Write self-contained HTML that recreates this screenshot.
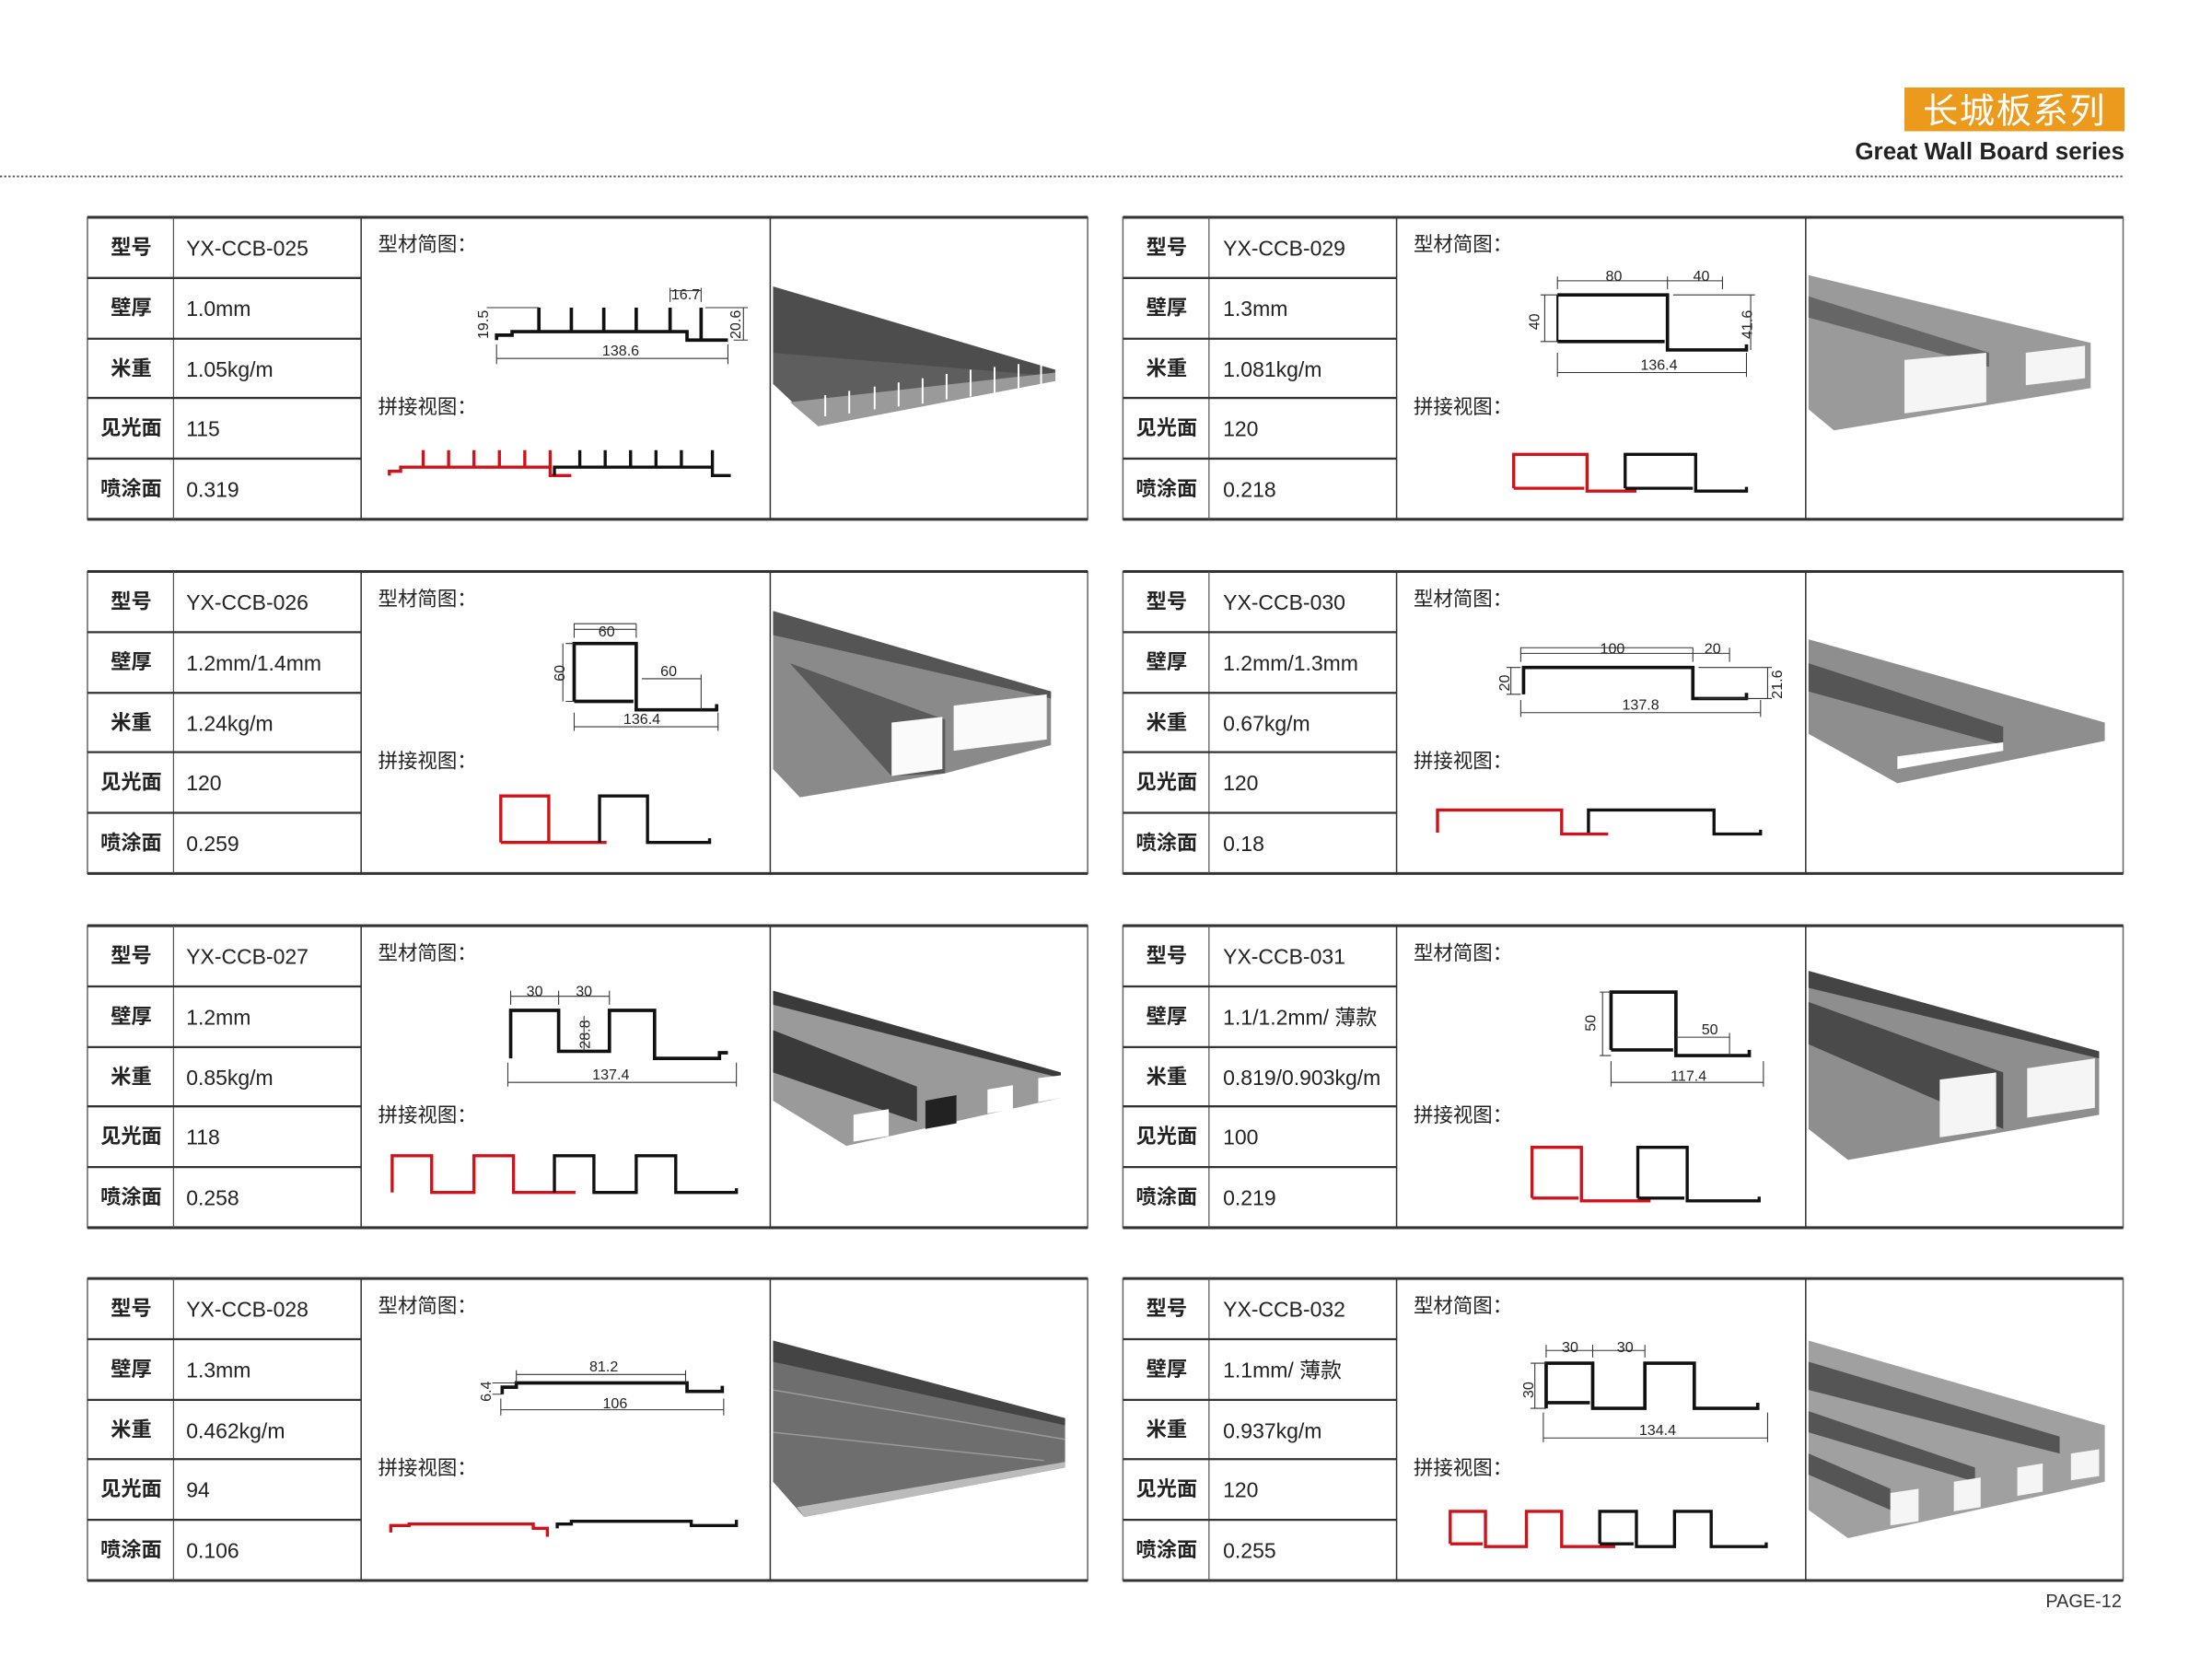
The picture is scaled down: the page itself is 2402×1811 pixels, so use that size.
<!DOCTYPE html>
<html><head><meta charset="utf-8"><style>
html,body{margin:0;padding:0;background:#fff;}
svg{display:block;}
text{font-family:"Liberation Sans","Noto Sans CJK SC",sans-serif;}
.lb{font-size:14.5px;font-weight:bold;fill:#222;text-anchor:middle;}
.vl{font-size:15px;fill:#222;}
.hd{font-size:14px;fill:#222;}
.dm{font-size:10.5px;fill:#222;text-anchor:middle;}
.p{fill:none;stroke:#111;stroke-width:2.4;}
.r{fill:none;stroke:#d0121b;stroke-width:2.2;}
.k{fill:none;stroke:#111;stroke-width:2.2;}
.t{fill:none;stroke:#333;stroke-width:0.7;}
</style></head><body>
<svg width="2402" height="1811" viewBox="0 0 1568 1182" preserveAspectRatio="none" xmlns="http://www.w3.org/2000/svg">
<rect width="1568" height="1182" fill="#fff"/>
<rect x="1350" y="62" width="156" height="31" fill="#ec9a1c"/>
<text x="1428" y="87" font-size="25" fill="#fff" text-anchor="middle" style="letter-spacing:1px">长城板系列</text>
<text x="1506" y="113" font-size="17" font-weight="bold" fill="#222" text-anchor="end">Great Wall Board series</text>
<line x1="0" y1="125" x2="1506" y2="125" stroke="#555" stroke-width="1.2" stroke-dasharray="1.5,1.5"/>
<text x="1504" y="1139" font-size="13" fill="#333" text-anchor="end">PAGE-12</text>

<defs>
<g id="card">
<rect x="0" y="0" width="709" height="214" fill="none" stroke="#666" stroke-width="1"/>
<line x1="0" y1="0" x2="709" y2="0" stroke="#333" stroke-width="2"/>
<line x1="0" y1="214" x2="709" y2="214" stroke="#333" stroke-width="2"/>
<line x1="61" y1="0" x2="61" y2="214" stroke="#555" stroke-width="0.8"/>
<line x1="194" y1="0" x2="194" y2="214" stroke="#333" stroke-width="1"/>
<line x1="484" y1="0" x2="484" y2="214" stroke="#333" stroke-width="1"/>
<g stroke="#333" stroke-width="1.5">
<line x1="0" y1="43" x2="194" y2="43"/><line x1="0" y1="86" x2="194" y2="86"/>
<line x1="0" y1="128" x2="194" y2="128"/><line x1="0" y1="171" x2="194" y2="171"/></g>
<text class="lb" x="31" y="26">型号</text><text class="lb" x="31" y="69">壁厚</text>
<text class="lb" x="31" y="112">米重</text><text class="lb" x="31" y="154">见光面</text>
<text class="lb" x="31" y="197">喷涂面</text>
<text class="hd" x="206" y="24">型材简图：</text>
<text class="hd" x="206" y="139">拼接视图：</text>
</g>
</defs>

<g transform="translate(62,154)"><use href="#card"/><text class="vl" x="70" y="27">YX-CCB-025</text><text class="vl" x="70" y="70">1.0mm</text><text class="vl" x="70" y="113">1.05kg/m</text><text class="vl" x="70" y="155">115</text><text class="vl" x="70" y="198">0.319</text></g>
<g transform="translate(62,405)"><use href="#card"/><text class="vl" x="70" y="27">YX-CCB-026</text><text class="vl" x="70" y="70">1.2mm/1.4mm</text><text class="vl" x="70" y="113">1.24kg/m</text><text class="vl" x="70" y="155">120</text><text class="vl" x="70" y="198">0.259</text></g>
<g transform="translate(62,656)"><use href="#card"/><text class="vl" x="70" y="27">YX-CCB-027</text><text class="vl" x="70" y="70">1.2mm</text><text class="vl" x="70" y="113">0.85kg/m</text><text class="vl" x="70" y="155">118</text><text class="vl" x="70" y="198">0.258</text></g>
<g transform="translate(62,906)"><use href="#card"/><text class="vl" x="70" y="27">YX-CCB-028</text><text class="vl" x="70" y="70">1.3mm</text><text class="vl" x="70" y="113">0.462kg/m</text><text class="vl" x="70" y="155">94</text><text class="vl" x="70" y="198">0.106</text></g>
<g transform="translate(796,154)"><use href="#card"/><text class="vl" x="71" y="27">YX-CCB-029</text><text class="vl" x="71" y="70">1.3mm</text><text class="vl" x="71" y="113">1.081kg/m</text><text class="vl" x="71" y="155">120</text><text class="vl" x="71" y="198">0.218</text></g>
<g transform="translate(796,405)"><use href="#card"/><text class="vl" x="71" y="27">YX-CCB-030</text><text class="vl" x="71" y="70">1.2mm/1.3mm</text><text class="vl" x="71" y="113">0.67kg/m</text><text class="vl" x="71" y="155">120</text><text class="vl" x="71" y="198">0.18</text></g>
<g transform="translate(796,656)"><use href="#card"/><text class="vl" x="71" y="27">YX-CCB-031</text><text class="vl" x="71" y="70">1.1/1.2mm/ 薄款</text><text class="vl" x="71" y="113" font-size="14.5">0.819/0.903kg/m</text><text class="vl" x="71" y="155">100</text><text class="vl" x="71" y="198">0.219</text></g>
<g transform="translate(796,906)"><use href="#card"/><text class="vl" x="71" y="27">YX-CCB-032</text><text class="vl" x="71" y="70">1.1mm/ 薄款</text><text class="vl" x="71" y="113">0.937kg/m</text><text class="vl" x="71" y="155">120</text><text class="vl" x="71" y="198">0.255</text></g>

<!-- 025 diagram -->
<path class="p" d="M352,241 V237.5 H363 V235 H487 V241 H516"/>
<path class="p" d="M382,218V235M405,218V235M428,218V235M451,218V235M475,218V235M497,218V241"/>
<path class="t" d="M345,218H382M352,244V258M516,244V258M352,254H516M475,214V204M497,214V204M475,206H497M500,218H530M520,241H530M527,218V241"/>
<text class="dm" x="440" y="252">138.6</text><text class="dm" x="486" y="212">16.7</text>
<text class="dm" transform="translate(346,230) rotate(-90)">19.5</text>
<text class="dm" transform="translate(525,230) rotate(-90)">20.6</text>
<path class="r" d="M276,337V334H284V331H390V337H405 M300,319V331M318,319V331M336,319V331M354,319V331M372,319V331M390,319V331"/>
<path class="k" d="M393,337V331H505V337H518 M411,319V331M429,319V331M447,319V331M465,319V331M483,319V331M505,319V331"/>

<!-- 026 -->
<path class="p" d="M407,497V456H451V503H508V499"/><path class="p" d="M407,497H449"/>
<path class="t" d="M407,452V442H451M451,452V442M407,446H451M401,456H407M401,497H407M399,456V497M455,481H497M497,478V503M407,505V518M509,505V518M407,515H509"/>
<text class="dm" x="430" y="451">60</text><text class="dm" x="474" y="479">60</text><text class="dm" x="455" y="513">136.4</text>
<text class="dm" transform="translate(400,477) rotate(-90)">60</text>
<path class="r" d="M355,597V564H389V597H430M355,597H388"/>
<path class="k" d="M425,597V564H459V597H503V594"/>

<!-- 027 -->
<path class="p" d="M362,750V716H396V745H432V716H464V750H510V746H516"/>
<path class="t" d="M362,712V702M396,712V702M432,712V702M362,706H432M414,720V745M360,753V770M522,753V770M360,767H522"/>
<text class="dm" x="379" y="706">30</text><text class="dm" x="414" y="706">30</text><text class="dm" x="433" y="765">137.4</text>
<text class="dm" transform="translate(418,733) rotate(-90)">28.8</text>
<path class="r" d="M278,845V819H306V845H336V819H364V845H408"/>
<path class="k" d="M393,845V819H421V845H451V819H479V845H522V842"/>

<!-- 028 -->
<path class="p" d="M356,988V983H366V980H487V986H512V982"/>
<path class="t" d="M366,974H486M366,971V980M486,971V980M355,991V1003M513,991V1003M355,999H513M349,980H366M349,988H356"/>
<text class="dm" x="428" y="972">81.2</text><text class="dm" x="436" y="998">106</text>
<text class="dm" transform="translate(348,986) rotate(-90)">6.4</text>
<path class="r" d="M277,1086V1081H290V1080H378V1083H388V1089"/>
<path class="k" d="M395,1083V1080H405V1078H490V1081H522V1077"/>

<!-- 029 -->
<path class="p" d="M1104,209H1182V248H1238V244M1104,242H1180"/><path class="k" d="M1104,209V242" style="stroke-width:1.4"/>
<path class="t" d="M1104,205V196M1182,205V196M1221,205V196M1104,199H1221M1186,209H1244M1241,209V248M1092,209H1104M1092,242H1104M1095,209V242M1104,250V267M1238,250V267M1104,264H1238"/>
<text class="dm" x="1144" y="199">80</text><text class="dm" x="1206" y="199">40</text><text class="dm" x="1176" y="262">136.4</text>
<text class="dm" transform="translate(1091,228) rotate(-90)">40</text>
<text class="dm" transform="translate(1242,230) rotate(-90)">41.6</text>
<path class="r" d="M1073,346V322H1125V348H1160M1073,346H1123"/>
<path class="k" d="M1152,346V322H1202V348H1238V345M1152,346H1200"/>

<!-- 030 -->
<path class="p" d="M1080,492V473H1200V495H1238V491"/>
<path class="t" d="M1078,469V459H1200M1200,469V459M1226,469V459M1078,463H1226M1204,473H1256M1204,495H1256M1253,473V495M1068,473H1078M1068,492H1078M1071,473V492M1078,496V508M1248,496V508M1078,505H1248"/>
<text class="dm" x="1143" y="463">100</text><text class="dm" x="1214" y="463">20</text><text class="dm" x="1163" y="503">137.8</text>
<text class="dm" transform="translate(1070,484) rotate(-90)">20</text>
<text class="dm" transform="translate(1263,485) rotate(-90)">21.6</text>
<path class="r" d="M1019,590V574H1107V591H1140"/>
<path class="k" d="M1126,590V574H1215V591H1248V588"/>

<!-- 031 -->
<path class="p" d="M1142,744V703H1188V748H1240V744M1142,744H1186"/>
<path class="t" d="M1188,735H1226M1226,732V748M1134,703H1142M1134,748H1142M1136,703V748M1142,752V770M1250,752V770M1142,767H1250"/>
<text class="dm" x="1212" y="733">50</text><text class="dm" x="1197" y="766">117.4</text>
<text class="dm" transform="translate(1131,725) rotate(-90)">50</text>
<path class="r" d="M1086,849V813H1121V851H1170M1086,849H1119"/>
<path class="k" d="M1161,849V813H1196V851H1247V848M1161,849H1194"/>

<!-- 032 -->
<path class="p" d="M1096,998V966H1129V998H1166V966H1201V998H1246V994M1096,994H1127"/>
<path class="t" d="M1096,962V953M1129,962V953M1166,962V953M1096,957H1166M1085,966H1096M1085,998H1096M1088,966V998M1094,1001V1022M1253,1001V1022M1094,1019H1253"/>
<text class="dm" x="1113" y="958">30</text><text class="dm" x="1152" y="958">30</text><text class="dm" x="1175" y="1017">134.4</text>
<text class="dm" transform="translate(1087,985) rotate(-90)">30</text>
<path class="r" d="M1028,1094V1071H1053V1096H1082V1071H1107V1096H1145M1028,1094H1051"/>
<path class="k" d="M1134,1094V1071H1160V1096H1187V1071H1213V1096H1252V1093M1134,1094H1158"/>

<!-- images -->
<polygon points="548,203 748,262 748,270 580,302 548,272" fill="#4d4d4d"/>
<polygon points="548,250 740,266 580,300 548,272" fill="#5e5e5e"/>
<polygon points="560,285 748,264 748,270 580,302" fill="#9a9a9a"/>
<g stroke="#fff" stroke-width="1.3"><path d="M585,295V280M602,293V277M620,290V274M637,288V271M654,286V268M671,283V265M688,281V262M705,279V260M722,276V258M738,274V256"/></g>
<polygon points="548,433 745,490 745,528 670,548 567,565 548,545" fill="#8a8a8a"/>
<polygon points="548,433 745,490 745,495 548,450" fill="#555"/>
<polygon points="560,470 670,510 670,548 632,550" fill="#5a5a5a"/>
<polygon points="632,512 668,508 668,545 632,550" fill="#fafafa"/>
<polygon points="676,500 742,492 742,524 676,532" fill="#fafafa"/>
<polygon points="548,702 752,760 752,778 600,812 548,780" fill="#9a9a9a"/>
<g fill="#3a3a3a"><polygon points="548,702 752,760 752,764 548,712"/><polygon points="548,730 650,770 650,795 548,760"/></g>
<polygon points="605,790 630,786 630,805 605,809" fill="#fff"/><polygon points="656,780 678,776 678,796 656,800" fill="#222"/>
<polygon points="700,772 718,769 718,786 700,789" fill="#fff"/><polygon points="736,764 752,762 752,778 736,781" fill="#fff"/>
<polygon points="548,950 755,1005 755,1040 570,1075 548,1050" fill="#6e6e6e"/>
<polygon points="548,950 755,1005 755,1010 548,965" fill="#444"/>
<g stroke="#999" stroke-width="1"><path d="M548,985L755,1020M548,1015L740,1035"/></g>
<polygon points="565,1068 755,1036 755,1040 570,1075" fill="#bbb"/>
<polygon points="1282,195 1482,243 1482,275 1300,305 1282,290" fill="#9a9a9a"/>
<polygon points="1282,210 1410,250 1410,260 1282,225" fill="#666"/>
<polygon points="1350,255 1408,250 1408,285 1350,293" fill="#f5f5f5"/>
<polygon points="1436,250 1478,245 1478,268 1436,273" fill="#f5f5f5"/>
<polygon points="1282,453 1492,512 1492,525 1345,555 1282,520" fill="#8e8e8e"/>
<polygon points="1282,470 1420,515 1420,528 1282,490" fill="#555"/>
<polygon points="1345,536 1420,526 1420,532 1345,545" fill="#fff"/>
<polygon points="1282,688 1488,745 1488,790 1310,822 1282,800" fill="#8e8e8e"/>
<polygon points="1282,688 1488,745 1488,750 1282,700" fill="#444"/>
<polygon points="1282,710 1420,760 1420,800 1282,740" fill="#4a4a4a"/>
<polygon points="1375,765 1415,760 1415,800 1375,806" fill="#f5f5f5"/>
<polygon points="1437,757 1485,750 1485,785 1437,792" fill="#f5f5f5"/>
<polygon points="1282,950 1492,1010 1492,1050 1310,1090 1282,1070" fill="#a0a0a0"/>
<g fill="#555"><polygon points="1282,965 1460,1018 1460,1030 1282,985"/><polygon points="1282,1000 1400,1040 1400,1050 1282,1015"/><polygon points="1282,1030 1340,1055 1340,1070 1282,1045"/></g>
<g fill="#f5f5f5"><polygon points="1340,1058 1360,1055 1360,1078 1340,1081"/><polygon points="1385,1050 1404,1047 1404,1068 1385,1071"/><polygon points="1430,1040 1448,1037 1448,1057 1430,1060"/><polygon points="1468,1030 1488,1027 1488,1046 1468,1049"/></g>
</svg>
</body></html>
